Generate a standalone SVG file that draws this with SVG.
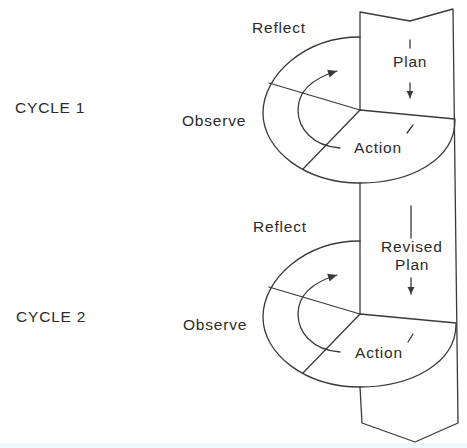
<svg xmlns="http://www.w3.org/2000/svg" width="467" height="448" viewBox="0 0 467 448">
<style>
.ln{fill:none;stroke:#3a3a3a;stroke-width:1.3;stroke-linejoin:round;stroke-linecap:round}
.tx{font-family:"Liberation Sans",Arial,sans-serif;font-size:15.5px;letter-spacing:0.8px;fill:#2a2a2a}
</style>
<defs>
<marker id="ah" viewBox="0 0 10 10" refX="10" refY="5" markerUnits="userSpaceOnUse" markerWidth="10" markerHeight="9" orient="auto">
<path d="M0,0.5 L10,5 L0,9.5 z" fill="#3a3a3a"/>
</marker>
<marker id="ahs" viewBox="0 0 10 10" refX="10" refY="5" markerUnits="userSpaceOnUse" markerWidth="7" markerHeight="8" orient="auto">
<path d="M0,0 L10,5 L0,10 z" fill="#3a3a3a"/>
</marker>
</defs>
<rect x="0" y="0" width="467" height="448" fill="#ffffff"/>
<rect x="0" y="443" width="467" height="5" fill="#eef9f9"/>
<g id="column">
<path class="ln" d="M360,110 L360,12 L410,21 L453,9 L458,423 L415,442 L362,423 L360,387"/>
<path class="ln" d="M360,183 L360,314"/>
</g>
<g id="cycle1">
<path class="ln" d="M360,37 C305,37 263,75 263,113 C263,150 305,183 360,183 C410,183 455,160 455,120"/>
<path class="ln" d="M360,110 L269,83 M360,110 L303,169 M360,110 L455,119"/>
<path class="ln" d="M340,148 C312,146 298,128 298,110 C298,90 314,78 337,71" marker-end="url(#ah)"/>
</g>
<g id="cycle2" transform="translate(0,204)">
<path class="ln" d="M360,37 C305,37 263,75 263,113 C263,150 305,183 360,183 C410,183 456,160 456,120"/>
<path class="ln" d="M360,110 L269,83 M360,110 L303,169 M360,110 L456,119"/>
<path class="ln" d="M340,148 C312,146 298,128 298,110 C298,90 314,78 337,71" marker-end="url(#ah)"/>
</g>
<g id="connectors">
<path class="ln" d="M410,40 L410,48"/>
<path class="ln" d="M410,83 L410,98" marker-end="url(#ahs)"/>
<path class="ln" d="M407,133 L413,125"/>
<path class="ln" d="M411,206 L411,238"/>
<path class="ln" d="M411,278 L411,294" marker-end="url(#ahs)"/>
<path class="ln" d="M408,342 L413,334"/>
</g>
<g id="labels">
<text class="tx" x="15" y="113">CYCLE 1</text>
<text class="tx" x="16" y="322">CYCLE 2</text>
<text class="tx" x="252" y="33">Reflect</text>
<text class="tx" x="253" y="232">Reflect</text>
<text class="tx" x="182" y="126">Observe</text>
<text class="tx" x="183" y="330">Observe</text>
<text class="tx" x="393" y="67">Plan</text>
<text class="tx" x="381" y="252">Revised</text>
<text class="tx" x="395" y="270">Plan</text>
<text class="tx" x="354" y="153">Action</text>
<text class="tx" x="355" y="358">Action</text>
</g>
</svg>
